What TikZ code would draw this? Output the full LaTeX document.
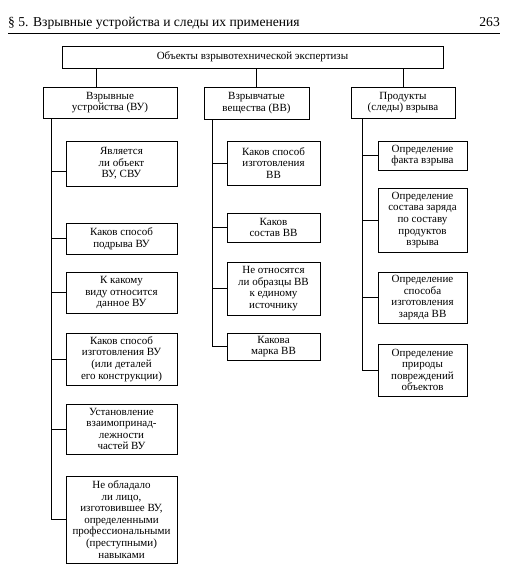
\documentclass[tikz,border=0pt]{standalone}
\usepackage{fontspec}
\setmainfont{Liberation Serif}
\usepackage{tikz}
\tikzset{obox/.style={draw,line width=1pt,inner sep=0pt,align=center,font=\fontsize{11}{11.6}\selectfont}}
\tikzset{link/.style={line width=1pt}}
\begin{document}
\begin{tikzpicture}[x=1pt,y=-1pt]
    \useasboundingbox (0,0) rectangle (515,570);
    % page header
    \node[anchor=base west,inner sep=0pt,font=\fontsize{13.6}{14}\selectfont] (head) at (8,27) {§ 5. Взрывные устройства и следы их применения};
    \node[anchor=base east,inner sep=0pt,font=\fontsize{13.6}{14}\selectfont] (page) at (500,27) {263};
    \draw[line width=1pt] (8,33) -- (500,33);
    % top and categories
    \node[obox,minimum width=381pt,minimum height=22pt] (obj) at (252.5,57) {Объекты взрывотехнической экспертизы};
    \node[obox,minimum width=134pt,minimum height=31pt] (vu) at (110,102.5) {Взрывные\\устройства (ВУ)};
    \node[obox,minimum width=105pt,minimum height=32pt] (vv) at (256.5,103) {Взрывчатые\\вещества (ВВ)};
    \node[obox,minimum width=104pt,minimum height=31pt] (pr) at (403,102.5) {Продукты\\(следы) взрыва};
    % devices
    \node[obox,minimum width=111pt,minimum height=45pt] (vu1) at (121.5,163.5) {Является\\ли объект\\ВУ, СВУ};
    \node[obox,minimum width=111pt,minimum height=31pt] (vu2) at (121.5,238.5) {Каков способ\\подрыва ВУ};
    \node[obox,minimum width=111pt,minimum height=41pt] (vu3) at (121.5,292.5) {К какому\\виду относится\\данное ВУ};
    \node[obox,minimum width=111pt,minimum height=52pt] (vu4) at (121.5,359) {Каков способ\\изготовления ВУ\\(или деталей\\его конструкции)};
    \node[obox,minimum width=111pt,minimum height=50pt] (vu5) at (121.5,429) {Установление\\взаимопринад-\\лежности\\частей ВУ};
    \node[obox,minimum width=111pt,minimum height=87pt] (vu6) at (121.5,519.5) {Не обладало\\ли лицо,\\изготовившее ВУ,\\определенными\\профессиональными\\(преступными)\\навыками};
    % substances
    \node[obox,minimum width=93pt,minimum height=44pt] (vv1) at (273.5,163) {Каков способ\\изготовления\\ВВ};
    \node[obox,minimum width=93pt,minimum height=29pt] (vv2) at (273.5,227.5) {Каков\\состав ВВ};
    \node[obox,minimum width=93pt,minimum height=53pt] (vv3) at (273.5,288.5) {Не относятся\\ли образцы ВВ\\к единому\\источнику};
    \node[obox,minimum width=93pt,minimum height=27pt] (vv4) at (273.5,346.5) {Какова\\марка ВВ};
    % traces
    \node[obox,minimum width=89pt,minimum height=29pt] (pr1) at (422.5,155.5) {Определение\\факта взрыва};
    \node[obox,minimum width=89pt,minimum height=64pt] (pr2) at (422.5,220) {Определение\\состава заряда\\по составу\\продуктов\\взрыва};
    \node[obox,minimum width=89pt,minimum height=51pt] (pr3) at (422.5,297.5) {Определение\\способа\\изготовления\\заряда ВВ};
    \node[obox,minimum width=89pt,minimum height=52pt] (pr4) at (422.5,370) {Определение\\природы\\повреждений\\объектов};
    % trunks
    \coordinate (c1) at (96,0);
    \coordinate (t1) at (51,0);
    \coordinate (t2) at (212,0);
    \coordinate (t3) at (362,0);
    \coordinate (a1) at ([yshift=-7.5pt]vu1.west);
    \draw[link] (obj.south -| c1) -- (vu.north -| c1);
    \draw[link] (obj.south -| vv.north) -- (vv.north);
    \draw[link] (obj.south -| pr.north) -- (pr.north);
    \draw[link] (vu.south -| t1) |- (vu6.west);
    \draw[link] (vv.south -| t2) |- (vv4.west);
    \draw[link] (pr.south -| t3) |- (pr4.west);
    \draw[link] (t1 |- a1) -- (a1);
    \foreach \n in {vu2,vu3,vu4,vu5}
        \draw[link] (t1 |- \n.west) -- (\n.west);
    \foreach \n in {vv1,vv2,vv3}
        \draw[link] (t2 |- \n.west) -- (\n.west);
    \foreach \n in {pr1,pr2,pr3}
        \draw[link] (t3 |- \n.west) -- (\n.west);
\end{tikzpicture}
\end{document}
